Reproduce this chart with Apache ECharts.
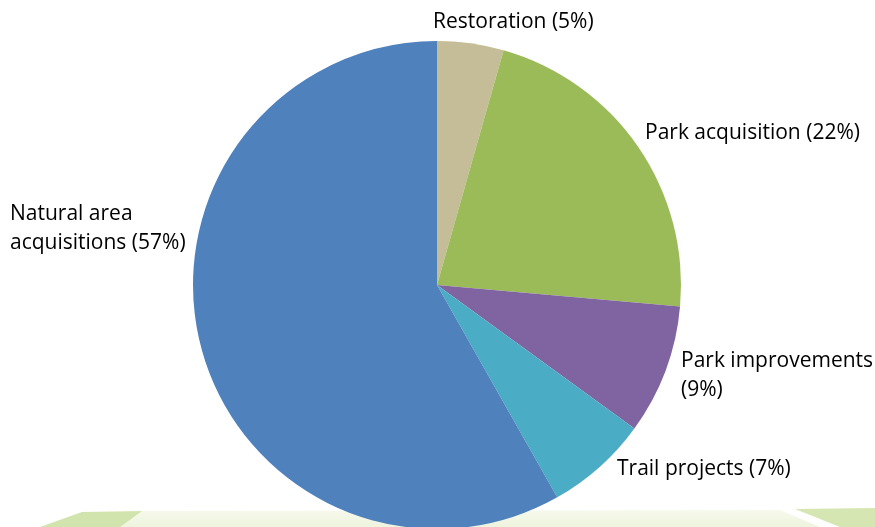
<!DOCTYPE html>
<html>
<head>
<meta charset="utf-8">
<script src="https://cdn.jsdelivr.net/npm/echarts@6/dist/echarts.min.js"></script>
<style>
html,body{margin:0;padding:0;background:#ffffff;}
#chart{width:875px;height:527px;}
</style>
</head>
<body>
<div id="chart"></div>
<script>
var categories = ["Restoration", "Park acquisition", "Park improvements", "Trail projects", "Natural area acquisitions"];
var values = [4.4, 22.0, 8.6, 6.8, 58.2];
var labelTexts = ["Restoration (5%)", "Park acquisition (22%)", "Park improvements\n(9%)", "Trail projects (7%)", "Natural area\nacquisitions (57%)"];
var colors = ["#c4bd97", "#9bbb59", "#8064a2", "#4bacc6", "#4f81bd"];
var labelPos = [[433, 22], [645, 133], [681, 376], [617, 469], [10, 229]];

var chart = echarts.init(document.getElementById('chart'));
chart.setOption({
  backgroundColor: '#ffffff',
  animation: false,
  graphic: [
    {type: 'polygon', z: -10, shape: {points: [[140, 511], [780, 510], [820, 527], [40, 527]]},
     style: {fill: new echarts.graphic.LinearGradient(0, 0, 0, 1, [{offset: 0, color: '#f6f9ec'}, {offset: 1, color: '#eef4de'}])}},
    {type: 'polygon', z: -9, shape: {points: [[82, 512], [142, 511], [120, 527], [40, 527]]},
     style: {fill: '#d2e4ad'}},
    {type: 'polygon', z: -9, shape: {points: [[795, 509], [875, 508], [875, 527], [840, 527]]},
     style: {fill: '#d5e6b2'}}
  ],
  series: [{
    type: 'pie',
    center: [437, 285],
    radius: 244,
    startAngle: 90,
    clockwise: true,
    data: categories.map(function (c, i) {
      return {name: c, value: values[i], itemStyle: {color: colors[i]}};
    }),
    label: {
      show: true,
      position: 'outside',
      formatter: function (p) { return labelTexts[p.dataIndex]; },
      fontFamily: 'Open Sans',
      fontSize: 21,
      lineHeight: 29,
      color: '#000000',
      overflow: 'none',
      width: 400
    },
    labelLine: {show: false},
    labelLayout: function (p) {
      var pos = labelPos[p.dataIndex];
      return {x: pos[0], y: pos[1], align: 'left', verticalAlign: 'middle', hideOverlap: false};
    },
    emphasis: {disabled: true}
  }]
});
</script>
</body>
</html>
